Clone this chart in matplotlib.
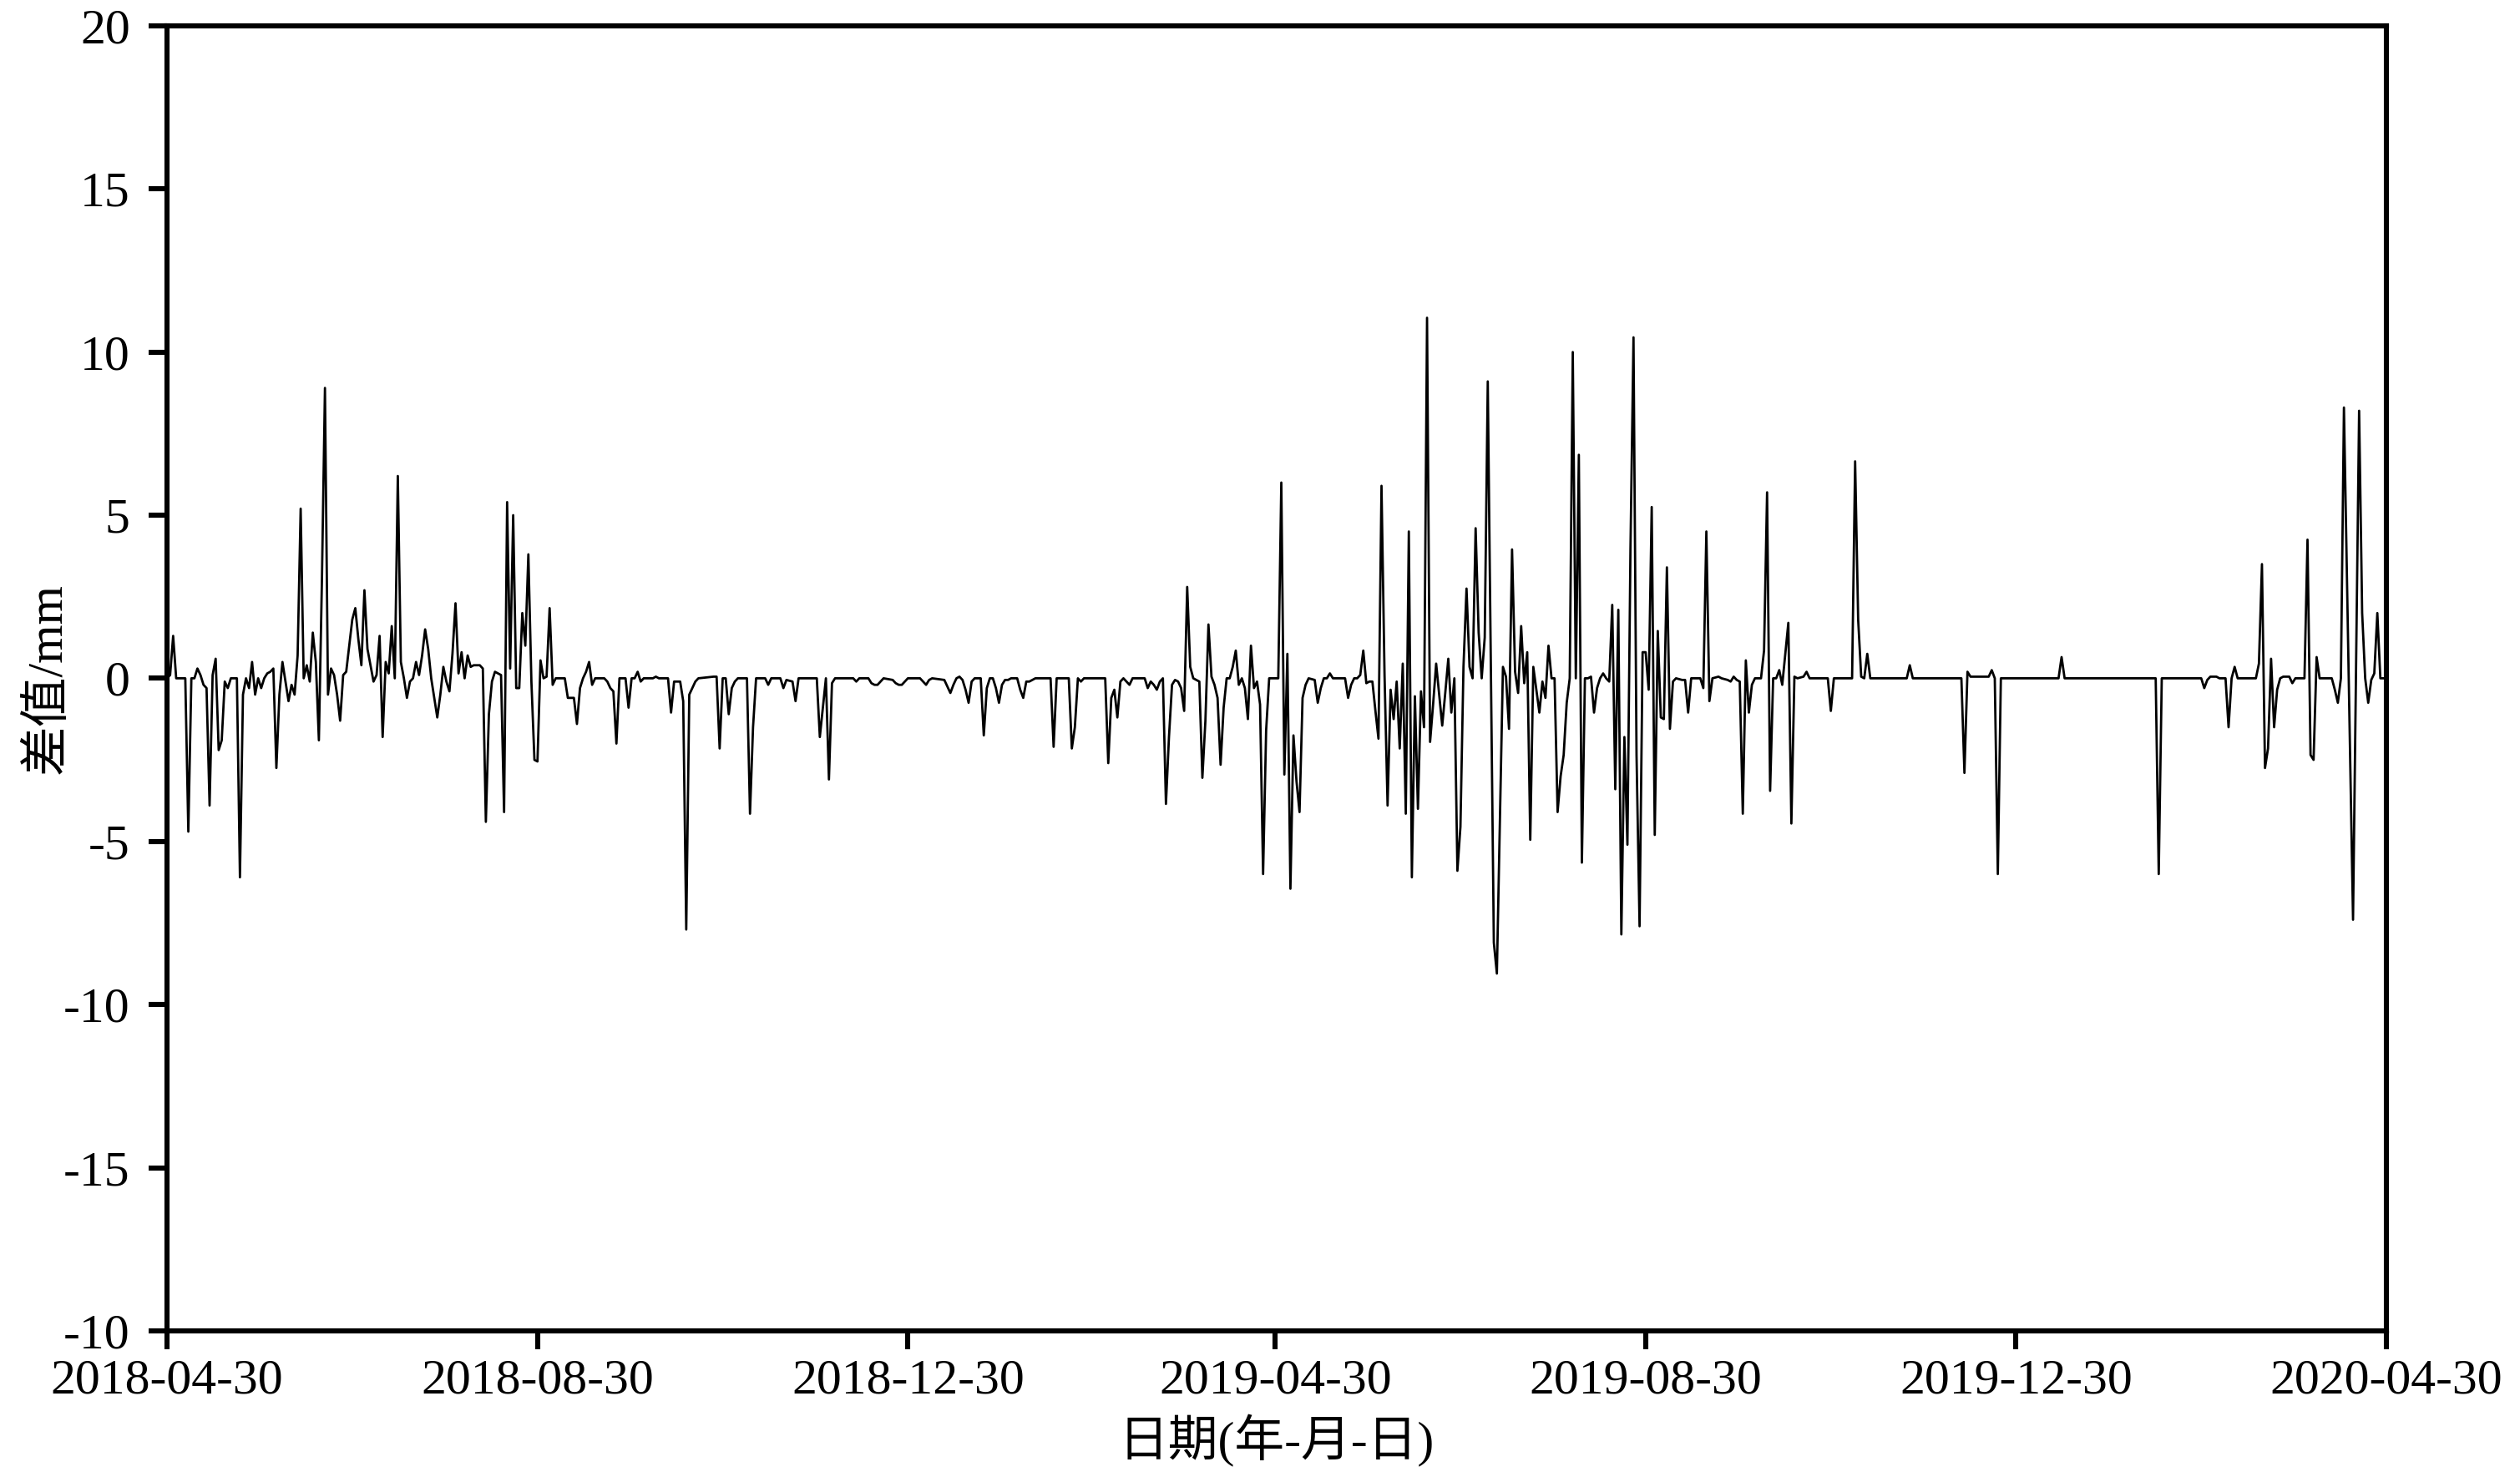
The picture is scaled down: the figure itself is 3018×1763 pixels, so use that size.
import pandas as pd
import matplotlib
matplotlib.use("Agg")
import matplotlib.pyplot as plt
import matplotlib.dates as mdates

# days counted from 2018-04-30 (mm)
day_index = [
    0, 1, 2, 3, 6, 7, 8, 9, 10, 11, 12, 13, 14, 15, 16, 17, 18, 19, 20, 21,
    23, 24, 25, 26, 27, 28, 29, 30, 31, 32, 33, 34, 35, 36, 37, 38, 39, 40, 41, 42,
    43, 44, 45, 46, 47, 48, 49, 50, 51, 52, 53, 54, 55, 56, 57, 58, 59, 60, 61, 62,
    63, 64, 65, 66, 67, 68, 69, 70, 71, 72, 73, 74, 75, 76, 77, 78, 79, 80, 81, 82,
    83, 84, 85, 86, 87, 88, 89, 90, 91, 92, 93, 94, 95, 96, 97, 98, 99, 100, 101, 102,
    103, 104, 105, 106, 107, 108, 109, 110, 111, 112, 113, 114, 115, 116, 117, 118, 119, 120, 121, 122,
    123, 124, 125, 126, 127, 128, 131, 132, 134, 135, 136, 137, 138, 139, 140, 141, 144, 145, 146, 147,
    148, 149, 151, 152, 153, 154, 155, 156, 157, 160, 161, 162, 165, 166, 167, 169, 170, 171, 172, 173,
    174, 175, 180, 181, 182, 183, 184, 185, 186, 187, 188, 191, 192, 193, 194, 197, 198, 199, 202, 203,
    204, 206, 207, 208, 214, 215, 216, 217, 218, 219, 220, 226, 227, 228, 231, 232, 233, 234, 235, 236,
    239, 240, 241, 242, 243, 244, 248, 249, 250, 251, 252, 256, 257, 258, 259, 260, 261, 262, 263, 264,
    265, 266, 268, 269, 270, 271, 272, 273, 274, 275, 276, 277, 278, 280, 281, 282, 283, 284, 285, 286,
    291, 292, 293, 297, 298, 299, 300, 301, 302, 309, 310, 311, 312, 313, 314, 315, 316, 317, 318, 322,
    323, 324, 325, 326, 327, 328, 329, 330, 331, 332, 333, 334, 335, 336, 337, 338, 339, 340, 341, 342,
    343, 344, 345, 346, 347, 348, 349, 350, 351, 352, 353, 354, 355, 356, 357, 358, 359, 360, 361, 362,
    363, 366, 367, 368, 369, 370, 371, 372, 373, 374, 375, 376, 378, 379, 380, 381, 382, 383, 384, 388,
    389, 390, 391, 392, 393, 394, 395, 396, 397, 398, 399, 400, 401, 402, 403, 404, 405, 406, 407, 408,
    409, 410, 411, 412, 413, 414, 415, 416, 417, 418, 419, 420, 421, 422, 423, 424, 425, 426, 427, 428,
    429, 430, 431, 432, 433, 434, 435, 436, 437, 438, 439, 440, 441, 442, 443, 444, 445, 446, 447, 448,
    449, 450, 451, 452, 453, 454, 455, 456, 457, 458, 459, 460, 461, 462, 463, 464, 465, 466, 467, 468,
    469, 470, 471, 472, 473, 474, 475, 476, 477, 478, 479, 480, 481, 482, 483, 484, 485, 486, 487, 488,
    489, 490, 491, 492, 493, 494, 495, 496, 497, 499, 500, 501, 502, 505, 506, 507, 508, 509, 511, 512,
    514, 515, 516, 517, 518, 519, 520, 521, 522, 523, 525, 526, 527, 528, 529, 530, 531, 532, 533, 534,
    535, 536, 537, 539, 540, 541, 547, 548, 549, 555, 556, 557, 558, 559, 560, 561, 573, 574, 575, 591,
    592, 593, 594, 600, 601, 602, 603, 604, 623, 624, 625, 655, 656, 657, 670, 671, 672, 673, 675, 676,
    678, 679, 680, 681, 682, 688, 689, 690, 691, 692, 693, 694, 695, 696, 697, 699, 700, 701, 704, 705,
    706, 707, 708, 709, 713, 714, 715, 716, 717, 718, 719, 720, 721, 722, 723, 724, 725, 726, 727, 728,
    729, 731,
]
diff_mm = [
    0.0, 0.1, 1.3, 0.0, 0.0, -4.7, 0.0, 0.0, 0.3, 0.1, -0.2, -0.3, -3.9, 0.1, 0.6, -2.2, -1.9, -0.1, -0.3, 0.0,
    0.0, -6.1, -0.5, 0.0, -0.3, 0.5, -0.5, 0.0, -0.3, 0.0, 0.15, 0.2, 0.3, -2.75, -0.5, 0.5, -0.1, -0.7, -0.2, -0.5,
    0.7, 5.2, 0.0, 0.4, -0.1, 1.4, 0.5, -1.9, 3.0, 8.9, -0.5, 0.3, 0.1, -0.5, -1.3, 0.1, 0.2, 1.0, 1.8, 2.15,
    1.2, 0.4, 2.7, 0.9, 0.4, -0.1, 0.1, 1.3, -1.8, 0.5, 0.15, 1.6, 0.0, 6.2, 0.5, 0.0, -0.6, -0.1, 0.0, 0.5,
    0.1, 0.7, 1.5, 0.9, 0.0, -0.6, -1.2, -0.5, 0.35, -0.1, -0.4, 0.75, 2.3, 0.15, 0.8, 0.0, 0.7, 0.35, 0.4, 0.4,
    0.4, 0.3, -4.4, -1.1, -0.1, 0.2, 0.15, 0.1, -4.1, 5.4, 0.3, 5.0, -0.3, -0.3, 2.0, 1.0, 3.8, -0.1, -2.5, -2.55,
    0.55, 0.0, 0.05, 2.15, -0.2, 0.0, 0.0, -0.6, -0.6, -1.4, -0.3, 0.0, 0.2, 0.5, -0.2, 0.0, 0.0, -0.1, -0.3, -0.4,
    -2.0, 0.0, 0.0, -0.9, 0.0, 0.0, 0.2, -0.1, 0.0, 0.0, 0.05, 0.0, 0.0, -1.05, -0.1, -0.1, -0.7, -7.7, -0.5, -0.3,
    -0.1, 0.0, 0.05, 0.05, -2.15, 0.0, 0.0, -1.1, -0.3, -0.1, 0.0, 0.0, -4.15, -1.5, 0.0, 0.0, -0.2, 0.0, 0.0, -0.3,
    -0.05, -0.1, -0.7, 0.0, 0.0, -1.8, -0.9, 0.0, -3.1, -0.15, 0.0, 0.0, -0.1, 0.0, 0.0, -0.15, -0.2, -0.2, -0.1, 0.0,
    -0.05, -0.15, -0.2, -0.2, -0.1, 0.0, 0.0, -0.1, -0.2, -0.05, 0.0, -0.05, -0.25, -0.45, -0.2, 0.0, 0.05, -0.05, -0.35, -0.75,
    -0.1, 0.0, 0.0, -1.75, -0.3, 0.0, 0.0, -0.3, -0.75, -0.2, -0.05, -0.05, 0.0, 0.0, -0.35, -0.6, -0.1, -0.1, -0.05, 0.0,
    0.0, -2.1, 0.0, 0.0, -2.15, -1.5, 0.0, -0.1, 0.0, 0.0, -2.6, -0.6, -0.35, -1.2, -0.1, 0.0, -0.1, -0.2, 0.0, 0.0,
    -0.3, -0.1, -0.2, -0.35, -0.1, 0.0, -3.85, -1.8, -0.2, -0.05, -0.1, -0.3, -1.0, 2.8, 0.35, 0.0, -0.05, -0.1, -3.05, -1.3,
    1.65, 0.05, -0.2, -0.6, -2.65, -0.9, 0.0, 0.0, 0.35, 0.85, -0.2, 0.0, -0.3, -1.25, 1.0, -0.3, -0.1, -0.8, -6.0, -1.6,
    0.0, 0.0, 6.0, -2.95, 0.75, -6.45, -1.75, -3.15, -4.1, -0.6, -0.2, 0.0, -0.05, -0.75, -0.3, 0.0, 0.0, 0.15, 0.0, 0.0,
    -0.6, -0.2, 0.0, 0.0, 0.1, 0.85, -0.15, -0.1, -0.1, -1.0, -1.85, 5.9, 0.1, -3.9, -0.35, -1.25, -0.1, -2.15, 0.45, -4.15,
    4.5, -6.1, -0.55, -4.0, -0.4, -1.5, 11.05, -1.95, -0.8, 0.45, -0.5, -1.45, -0.45, 0.6, -1.05, 0.0, -5.9, -4.55, 0.35, 2.75,
    0.35, 0.0, 4.6, 1.4, 0.0, 1.25, 9.1, 0.5, -8.1, -9.05, -4.4, 0.35, 0.05, -1.55, 3.95, 0.2, -0.45, 1.6, -0.15, 0.8,
    -4.95, 0.35, -0.35, -1.05, -0.1, -0.6, 1.0, 0.0, 0.0, -4.1, -3.0, -2.35, -0.75, 0.0, 10.0, 0.0, 6.85, -5.65, 0.0, 0.0,
    0.05, -1.05, -0.3, 0.0, 0.15, 0.0, -0.1, 2.25, -3.4, 2.1, -7.85, -1.8, -5.1, 3.95, 10.45, -2.35, -7.6, 0.8, 0.8, -0.35,
    5.25, -4.8, 1.45, -1.2, -1.25, 3.4, -1.55, -0.1, 0.0, -0.05, -0.05, -1.05, 0.0, 0.0, -0.3, 4.5, -0.7, 0.0, 0.05, 0.0,
    -0.05, -0.1, 0.05, -0.05, -0.1, -4.15, 0.55, -1.05, -0.2, 0.0, 0.0, 0.85, 5.7, -3.45, 0.0, 0.0, 0.25, -0.2, 0.75, 1.7,
    -4.45, 0.05, 0.0, 0.05, 0.2, 0.0, 0.0, -1.0, 0.0, 0.0, 6.65, 1.8, 0.05, 0.0, 0.75, 0.0, 0.0, 0.4, 0.0, 0.0,
    -2.9, 0.2, 0.05, 0.05, 0.25, 0.0, -6.0, 0.0, 0.0, 0.65, 0.0, 0.0, -6.0, 0.0, 0.0, -0.3, -0.05, 0.05, 0.05, 0.0,
    0.0, -1.5, 0.0, 0.35, 0.0, 0.0, 0.45, 3.5, -2.75, -2.15, 0.6, -1.5, -0.35, 0.0, 0.05, 0.05, -0.15, 0.0, 0.0, 4.25,
    -2.35, -2.5, 0.65, 0.0, 0.0, -0.35, -0.75, 0.0, 8.3, 3.0, -2.2, -7.4, 0.4, 8.2, 2.0, 0.0, -0.75, -0.05, 0.15, 2.0,
    0.0, 0.0,
]

start_date = "2018-04-30"
end_date = "2020-04-30"
xtick_dates = ["2018-04-30", "2018-08-30", "2018-12-30", "2019-04-30",
               "2019-08-30", "2019-12-30", "2020-04-30"]
ytick_values = [-20, -15, -10, -5, 0, 5, 10, 15, 20]
ytick_labels = ["-10", "-15", "-10", "-5", "0", "5", "10", "15", "20"]

dates = pd.Timestamp(start_date) + pd.to_timedelta(day_index, unit="D")

serif_cjk = ["Liberation Serif", "Noto Sans CJK SC"]
plt.rcParams["font.family"] = serif_cjk

fig = plt.figure(figsize=(15.09, 8.815), dpi=200)
ax = fig.add_axes([0.0663, 0.0959, 0.8807, 0.8866])

ax.plot(dates, diff_mm, color="black", linewidth=1.0)

ax.set_xlim(pd.Timestamp(start_date), pd.Timestamp(end_date))
ax.set_ylim(-20, 20)
ax.set_xticks(pd.to_datetime(xtick_dates))
ax.xaxis.set_major_formatter(mdates.DateFormatter("%Y-%m-%d"))
ax.set_yticks(ytick_values)
ax.set_yticklabels(ytick_labels)

for sp in ax.spines.values():
    sp.set_linewidth(2.2)
ax.tick_params(axis="both", direction="out", length=8, width=2.2,
               labelsize=21.5, top=False, right=False)
ax.tick_params(axis="x", pad=4)
ax.tick_params(axis="y", pad=8)

ax.set_ylabel("差值/mm", fontsize=21.5, family=serif_cjk)
ax.yaxis.set_label_coords(-0.043, 0.5)
ax.set_xlabel("日期(年-月-日)", fontsize=21.5, family=serif_cjk, va="top")
ax.xaxis.set_label_coords(0.5, -0.064)

fig.savefig("out.png", dpi=200)
